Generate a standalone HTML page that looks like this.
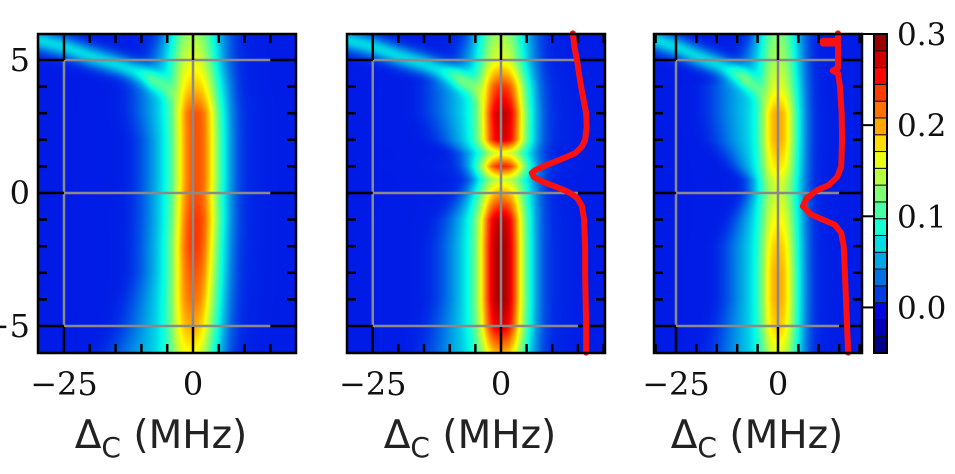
<!DOCTYPE html>
<html><head><meta charset="utf-8">
<style>
html,body{margin:0;padding:0;background:#fff;width:955px;height:474px;overflow:hidden;}
#root{position:relative;width:955px;height:474px;}
canvas{position:absolute;}
svg{position:absolute;left:0;top:0;}
</style></head>
<body>
<div id="root">
<canvas id="c1"></canvas>
<canvas id="c2"></canvas>
<canvas id="c3"></canvas>
<svg id="ov" width="955" height="474"></svg>
</div>
<script>
// ---- data ----
const rowY = [6,5,4,3,2,1.5,1,0.5,0,-1,-2,-3,-4,-5,-6];
const coreAmp1 = [0.09,0.11,0.13,0.17,0.17,0.17,0.17,0.17,0.17,0.18,0.18,0.17,0.16,0.14,0.11];
const coreAmp2 = [0.09,0.11,0.18,0.22,0.21,0.10,0.19,0.09,0.14,0.22,0.23,0.23,0.23,0.21,0.14];
const coreAmp3 = [0.08,0.09,0.10,0.14,0.14,0.13,0.12,0.10,0.09,0.11,0.13,0.14,0.14,0.13,0.10];
const coreCenter1 = [0,0,0.3,0.5,0.6,0.6,0.6,0.6,0.5,0.5,0.3,0.2,0,-0.2,-0.5];
const coreCenter2 = [0,0,0.2,0.3,0.3,0.3,0.3,0.3,0.2,0,0,0,0,0,0];
const coreCenter3 = [0,0,0,0,0,0,0,0,0,0,0,0,0,0,0];
const haloLeft1 = [6,8,11,11,10,10,10,10,10,10,10,10,11,12,14];
const haloLeft2 = [6,8,13,13,11,8,7,6,7,10,11,11,11,12,13];
const haloLeft3 = [6,9,15,15,14,12,10,7,7,10,12,12,12,13,14];
const haloAmp = [0.04,0.045,0.055,0.055,0.055,0.055,0.055,0.055,0.055,0.055,0.055,0.055,0.055,0.055,0.055];
const branchX = [-31,-25,-20,-15,-10,-6,-3];
const branchY = [5.8,5.5,5.15,4.85,4.5,4.1,3.6];
const red2X = [14,14.3,14.8,15.2,15.6,16.1,16.6,16.7,16.4,15.8,14.5,11.5,8.2,6.6,6.0,6.4,7.8,9.8,11.8,13.5,14.9,15.8,16.2,16.4,16.4,16.5,16.6,16.6];
const red2Y = [6,5.5,5,4.5,4,3.5,3,2.5,2,1.75,1.5,1.25,1,0.85,0.75,0.6,0.45,0.3,0.15,0,-0.2,-0.5,-1,-2,-3,-4,-5,-6];
const red3X = [14.7,14.7,11,11,14.7,14.7,13.4,14.7,15.2,15.6,15.7,15.5,14.5,12.5,9.5,7,6.1,8,11,14,15.5,16.1,16.4,16.8,17.2];
const red3Y = [6.0,5.72,5.72,5.62,5.62,4.7,4.6,4.5,4,3,2,1,0.6,0.3,0.1,-0.2,-0.5,-0.8,-1.0,-1.2,-1.5,-2,-3,-4.5,-6];
const xTickLabels = ["\u221225","0"];
const xTickVals = [-25,0];
const yTickLabels = ["5","0","\u22125"];
const yTickVals = [5,0,-5];
const cbTickLabels = ["0.3","0.2","0.1","0.0"];
const cbTickVals = [0.3,0.2,0.1,0.0];

const panels = [
 {id:'c1',L:38,R:296,x0:193,k:5.16,amp:coreAmp1,cen:coreCenter1,hl:haloLeft1,red:null,tc:161},
 {id:'c2',L:347,R:605,x0:501,k:5.13,amp:coreAmp2,cen:coreCenter2,hl:haloLeft2,red:[red2X,red2Y],tc:470},
 {id:'c3',L:654,R:862,x0:778,k:4.08,amp:coreAmp3,cen:coreCenter3,hl:haloLeft3,red:[red3X,red3Y],tc:757}
];
const TOP=34,BOT=353;
const yPx = y => 193 - y*26.6;
const pxY = p => (193 - p)/26.6;
const VMIN=-0.05,VMAX=0.3;
function interp(arr,y){
  for(let i=0;i<rowY.length-1;i++){
    if(y<=rowY[i] && y>=rowY[i+1]){const t=(rowY[i]-y)/(rowY[i]-rowY[i+1]);return arr[i]*(1-t)+arr[i+1]*t;}
  }
  return y>rowY[0]?arr[0]:arr[arr.length-1];
}
function cl(v){return Math.max(0,Math.min(1,v));}
function jet(t){return [cl(1.5-Math.abs(4*t-3)),cl(1.5-Math.abs(4*t-2)),cl(1.5-Math.abs(4*t-1))];}
function branchVal(x,y){
  if(x<branchX[0]||x>branchX[branchX.length-1]) return 0;
  let by=branchY[branchY.length-1];
  for(let i=0;i<branchX.length-1;i++){
    if(x>=branchX[i]&&x<=branchX[i+1]){const t=(x-branchX[i])/(branchX[i+1]-branchX[i]);by=branchY[i]*(1-t)+branchY[i+1]*t;}
  }
  const d=(y-by)/0.4;
  const fade=Math.min(1,(branchX[branchX.length-1]-x)/5);
  return 0.065*fade*Math.exp(-d*d);
}
panels.forEach(p=>{
  const c=document.getElementById(p.id);
  const w=p.R-p.L,h=BOT-TOP;
  c.width=w;c.height=h;c.style.left=p.L+'px';c.style.top=TOP+'px';
  const ctx=c.getContext('2d');const im=ctx.createImageData(w,h);
  for(let j=0;j<h;j++){
    const y=pxY(TOP+j+0.5);
    const A=interp(p.amp,y),C=interp(p.cen,y),HL=interp(p.hl,y),HA=interp(haloAmp,y);
    for(let i=0;i<w;i++){
      const x=(p.L+i+0.5-p.x0)/p.k;
      const dc=(x-C)/3.8;
      const sh=x<C?HL:7;
      const dh=(x-C)/sh;
      let v=0.003+A/(1+dc*dc*dc*dc*0.6+dc*dc*0.4)+HA*Math.exp(-dh*dh*dh*dh)+branchVal(x,y);
      const col=jet(cl((v-VMIN)/(VMAX-VMIN)));
      const o=(j*w+i)*4;
      im.data[o]=col[0]*255;im.data[o+1]=col[1]*255;im.data[o+2]=col[2]*230;im.data[o+3]=255;
    }
  }
  ctx.putImageData(im,0,0);
});

const svg=document.getElementById('ov');const NS='http://www.w3.org/2000/svg';
function mk(tag,attrs,parent){const e=document.createElementNS(NS,tag);for(const k in attrs)e.setAttribute(k,attrs[k]);(parent||svg).appendChild(e);return e;}
panels.forEach((p,pi)=>{
  const g=mk('g',{});
  
  
  const X=x=>p.x0+x*p.k;
  [5,0,-5].forEach(v=>{const l=mk('line',{x1:X(-25),x2:X(15),y1:yPx(v),y2:yPx(v),stroke:'#8a8a8a','stroke-width':2.5},g);
    });
  [-25,0].forEach(v=>{const l=mk('line',{x1:X(v),x2:X(v),y1:yPx(5),y2:yPx(-5),stroke:'#8a8a8a','stroke-width':2.5},g);
    });
  for(let x=-30;x<=20;x+=5){const px=X(x);if(px<=p.L+1||px>=p.R-1)continue;
    const major=(x%25===0);const len=major?26:9;
    mk('line',{x1:px,x2:px,y1:BOT,y2:BOT-len,stroke:'#000','stroke-width':2.5},g);
    mk('line',{x1:px,x2:px,y1:TOP,y2:TOP+len,stroke:'#000','stroke-width':2.5},g);}
  for(let y=-6;y<=6;y++){const py=yPx(y);if(py<=TOP+1||py>=BOT-1)continue;
    const major=(y%5===0);
    mk('line',{x1:p.L,x2:major?X(-25):p.L+9,y1:py,y2:py,stroke:'#000','stroke-width':2.5},g);
    mk('line',{x1:p.R,x2:major?X(15):p.R-9,y1:py,y2:py,stroke:'#000','stroke-width':2.5},g);}
  if(p.red){const pts=p.red[0].map((xv,i)=>X(xv)+','+yPx(p.red[1][i])).join(' ');
    const pl=mk('polyline',{points:pts,fill:'none',stroke:'#ff1010','stroke-width':6,'stroke-linejoin':'round','stroke-linecap':'round'},g);
    }
  const fr=mk('rect',{x:p.L,y:TOP,width:p.R-p.L,height:BOT-TOP,fill:'none',stroke:'#000','stroke-width':2.5},g);
  
  xTickVals.forEach((v,i)=>{const t=mk('text',{x:X(v),y:395,'text-anchor':'middle','font-family':'DejaVu Serif, Liberation Serif, serif','font-size':32,fill:'#111'},g);
    t.textContent=xTickLabels[i];});
  const tt=mk('text',{x:p.tc,y:448,'text-anchor':'middle','font-family':'DejaVu Sans, Liberation Sans, sans-serif','font-size':39,fill:'#222'},g);
  
  const s1=mk('tspan',{},tt);s1.textContent='\u0394';
  const s2=mk('tspan',{dy:9,'font-size':28},tt);s2.textContent='C';
  const s3=mk('tspan',{dy:-9},tt);s3.textContent=' (MHz)';
  if(pi===0){yTickVals.forEach((v,i)=>{const t=mk('text',{x:30,y:yPx(v)+11,'text-anchor':'end','font-family':'DejaVu Serif, Liberation Serif, serif','font-size':32,fill:'#111'},g);
    t.textContent=yTickLabels[i];});}
});
const cb=mk('g',{});


const CBX=874,CBW=13,NL=19;
for(let i=0;i<NL;i++){
  const col=jet((i+0.5)/NL);
  const r=mk('rect',{x:CBX,y:BOT-(BOT-TOP)*(i+1)/NL,width:CBW,height:(BOT-TOP)/NL,fill:`rgb(${col[0]*255|0},${col[1]*255|0},${col[2]*230|0})`,stroke:'#111','stroke-width':1},cb);
  }
mk('rect',{x:CBX,y:TOP,width:CBW,height:BOT-TOP,fill:'none',stroke:'#000','stroke-width':2},cb);
cbTickVals.forEach((v,i)=>{const py=BOT-(BOT-TOP)*(v-VMIN)/(VMAX-VMIN);
  mk('line',{x1:863,x2:874,y1:py,y2:py,stroke:'#000','stroke-width':2},cb);
  const t=mk('text',{x:897,y:py+11,'font-family':'DejaVu Serif, Liberation Serif, serif','font-size':31,fill:'#111'},cb);
  t.textContent=cbTickLabels[i];});
</script>
</body></html>
